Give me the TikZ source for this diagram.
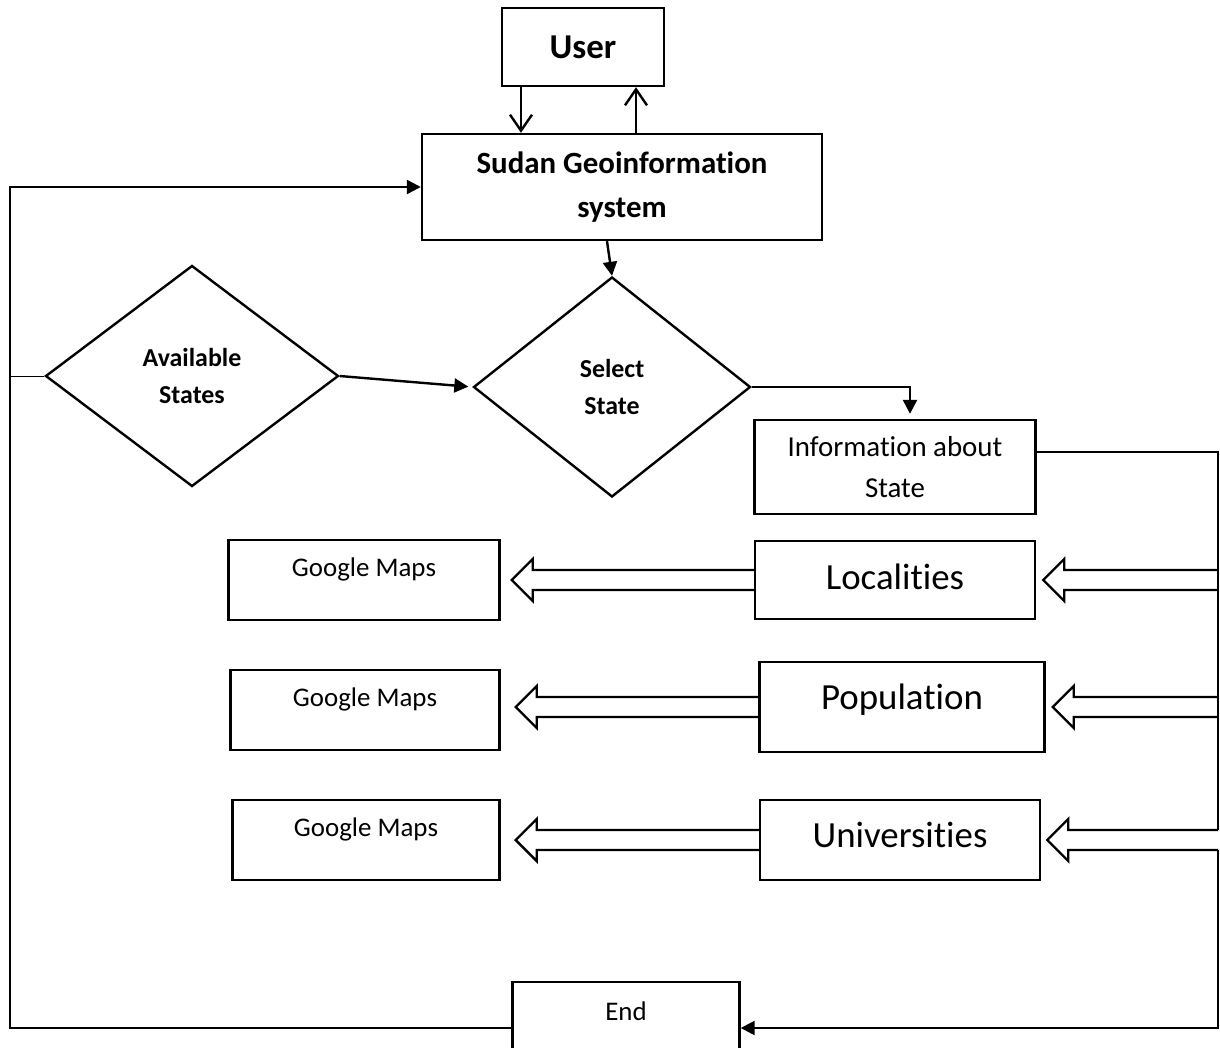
\documentclass[tikz,border=0pt]{standalone}
\usepackage{fontspec}
\setmainfont{Carlito}[RawFeature={-liga;-clig;-calt;-ccmp;-rlig;-dlig}]
\usetikzlibrary{shapes.geometric,arrows.meta,calc}

\tikzset{
  box/.style={draw, line width=2.4bp, align=center, inner sep=0pt, font=\fontsize{27}{40}\selectfont},
  bigbox/.style={box, font=\fontsize{37}{44}\selectfont},
  decision/.style={draw, diamond, line width=2.4bp, align=center, inner sep=0pt, font=\bfseries\fontsize{26}{38}\selectfont},
  flow/.style={line width=2.4bp, -{Triangle[length=14bp,width=14bp]}},
  openflow/.style={line width=2.4bp, -{Straight Barb[length=16bp,width=22bp]}},
  hollow/.style={line width=2.4bp, line join=miter},
}

% hollow block arrow pointing left: #1 tail, #2 tip
\newcommand{\hollowarrow}[2]{%
  \draw[hollow] let \p1=(#1), \p2=(#2) in
    (\x1,\y1+10bp) -- (\x2+21bp,\y1+10bp) -- (\x2+21bp,\y1+21bp)
    -- (\x2,\y1) -- (\x2+21bp,\y1-21bp) -- (\x2+21bp,\y1-10bp) -- (\x1,\y1-10bp);}

\begin{document}
\begin{tikzpicture}[x=1bp, y=-1bp]
        \useasboundingbox (0,0) rectangle (1220,1048);
        \clip (0,0) rectangle (1220,1048);
        % Top part
        \node[box, minimum width=162bp, minimum height=78bp, font=\bfseries\fontsize{35}{42}\selectfont] (user) at (583,47) {User};
        \node[box, minimum width=400bp, minimum height=106bp, font=\bfseries\fontsize{31}{44}\selectfont] (sudan) at (622,187) {Sudan Geoinformation\\system};
        % Decisions
        \node[decision, minimum width=293bp, minimum height=221bp] (avail) at (192,376) {Available\\States};
        \node[decision, minimum width=277bp, minimum height=220bp] (select) at (612,387) {Select\\State};
        % Information boxes
        \node[box, minimum width=281bp, minimum height=94bp, font=\fontsize{29}{41}\selectfont] (info) at (895,467) {Information about\\State};
        \node[bigbox, minimum width=280bp, minimum height=78bp, text depth=6bp] (loc) at (895,580) {Localities};
        \node[bigbox, minimum width=285bp, minimum height=90bp, text depth=20bp] (pop) at (902,707) {Population};
        \node[bigbox, minimum width=280bp, minimum height=80bp, text depth=10bp] (uni) at (900,840) {Universities};
        \node[box, minimum width=271bp, minimum height=80bp, text depth=26bp] (gm1) at (364,580) {Google Maps};
        \node[box, minimum width=269bp, minimum height=80bp, text depth=26bp] (gm2) at (365,710) {Google Maps};
        \node[box, minimum width=267bp, minimum height=80bp, text depth=26bp] (gm3) at (366,840) {Google Maps};
        \node[box, minimum width=227bp, minimum height=92bp, text depth=34bp] (end) at (626,1028) {End};
        % User <-> system
        \coordinate (udown) at ($(user.south)+(-62,0)$);
        \coordinate (uup) at ($(user.south)+(53,0)$);
        \draw[openflow] (udown) -- (udown |- sudan.north);
        \draw[openflow] (uup |- sudan.north) -- (uup);
        % Flow through the states
        \draw[flow] ($(sudan.south)+(-15,0)$) -- (select.north);
        \draw[flow, shorten >=4bp] (avail.east) -- (select.west);
        \draw[flow, shorten >=5bp] (select.east) -| ($(info.north)+(15,0)$);
        % Right rail
        \coordinate (rail) at (1218,452);
        \draw[line width=2.4bp] (info.east |- rail) -- (rail) -- ($(rail |- uni.east)+(0,-10)$);
        \draw[flow] ($(rail |- uni.east)+(0,10)$) |- (end.east);
        \hollowarrow{rail |- loc.east}{$(loc.east)+(7,0)$}
        \hollowarrow{rail |- pop.east}{$(pop.east)+(7,0)$}
        \hollowarrow{rail |- uni.east}{$(uni.east)+(6,0)$}
        % To Google Maps
        \hollowarrow{loc.west}{$(gm1.east)+(11,0)$}
        \hollowarrow{pop.west}{$(gm2.east)+(15,0)$}
        \hollowarrow{uni.west}{$(gm3.east)+(15,0)$}
        % Left loop
        \coordinate (lrail) at (10,187);
        \draw[flow] (end.west) -| (lrail) -- (sudan.west);
        \draw[line width=1bp] (avail.west) -- (avail.west -| lrail);
    \end{tikzpicture}
\end{document}
